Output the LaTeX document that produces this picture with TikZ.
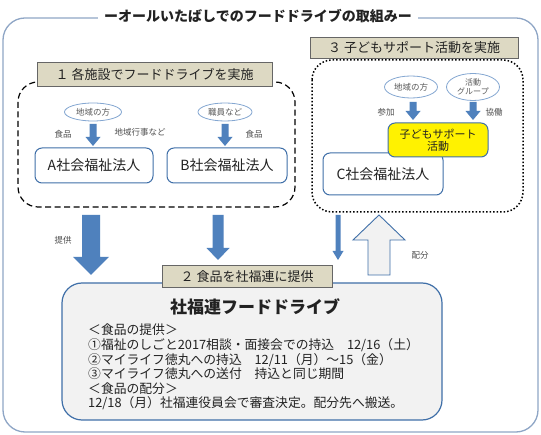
\documentclass[tikz,border=0pt]{standalone}
\usepackage{fontspec}
\setmainfont{Noto Sans CJK JP}
\usetikzlibrary{shapes.geometric}
\definecolor{outerc}{HTML}{8FA6C6}
\definecolor{boxc}{HTML}{3F6FA8}
\definecolor{arrc}{HTML}{4F81BD}
\definecolor{tanc}{HTML}{DDD9C3}
\definecolor{grayfill}{HTML}{F2F2F2}
\definecolor{txtc}{HTML}{222222}
\newcommand\blockdown[6]{% x, ytop, ybot, yhead, shafthalf, headhalf
  \fill[arrc] (#1-#5,#2) -- (#1+#5,#2) -- (#1+#5,#4) -- (#1+#6,#4) -- (#1,#3) -- (#1-#6,#4) -- (#1-#5,#4) -- cycle;}
\tikzset{
  lbl/.style={draw=gray!80!black, fill=tanc, font=\fontsize{13}{15}\selectfont, text=txtc, inner sep=0pt, anchor=north west},
  orgbox/.style={draw=boxc, line width=1pt, rounded corners=7pt, fill=white, font=\fontsize{14}{16}\selectfont, text=txtc},
  oval/.style={ellipse, draw=arrc!70, line width=0.8pt, fill=white, font=\fontsize{8.5}{10}\selectfont, text=black!65, inner sep=1pt, align=center},
  small/.style={font=\fontsize{8.5}{10}\selectfont, text=black!70},
}
\begin{document}
\begin{tikzpicture}[x=1pt,y=-1pt]
\useasboundingbox (0,0) rectangle (541,435);
\fill[white] (0,0) rectangle (541,435);
% outer frame
\draw[outerc, line width=1.3pt, rounded corners=22pt] (3,18) rectangle (538,432);
\node[fill=white, inner xsep=6pt, inner ysep=1pt, font=\fontsize{14}{16}\selectfont\bfseries, text=txtc] (title) at (258,16) {ーオールいたばしでのフードドライブの取組みー};

% group 1
\draw[dash pattern=on 6pt off 3.5pt, line width=1.2pt, rounded corners=20pt] (18,82) rectangle (295,207);
\node[lbl, minimum width=235pt, minimum height=24pt] (l1) at (37,62) {１ 各施設でフードドライブを実施};
\node[oval, minimum width=57pt, minimum height=18pt] (e1) at (93,112) {地域の方};
\node[oval, minimum width=54pt, minimum height=18pt] (e2) at (225,112) {職員など};
\node[orgbox, minimum width=118pt, minimum height=35pt] (A) at (94,165.5) {A社会福祉法人};
\node[orgbox, minimum width=120pt, minimum height=35pt] (B) at (227,165.5) {B社会福祉法人};
\blockdown{93}{124}{146}{137}{3.5}{7.5}
\blockdown{225}{124}{146}{137}{3.5}{7.5}
\node[small] (s1) at (63,134) {食品};
\node[small] (s2) at (140,132) {地域行事など};
\node[small] (s3) at (254,134) {食品};

% group 3
\draw[dotted, line width=1.5pt, rounded corners=20pt] (312,60) rectangle (523,212);
\node[lbl, minimum width=208pt, minimum height=21pt] (l3) at (310,37) {３ 子どもサポート活動を実施};
\node[oval, minimum width=53pt, minimum height=22pt] (e3) at (411,87) {地域の方};
\node[oval, minimum width=53pt, minimum height=27pt, inner sep=0pt, font=\fontsize{8}{8.5}\selectfont] (e4) at (473,87) {活動\\グループ};
\blockdown{413}{102}{120}{111}{3.5}{7.5}
\blockdown{473}{102}{120}{111}{3.5}{7.5}
\node[small] (s4) at (386,112) {参加};
\node[small] (s5) at (494,112) {協働};
\node[orgbox, minimum width=120pt, minimum height=42pt] (C) at (383,174) {C社会福祉法人};
\node[orgbox, fill=yellow, minimum width=100pt, minimum height=34pt, align=center, inner sep=1pt, font=\fontsize{11}{12}\selectfont] (Y) at (438,140) {子どもサポート\\活動};

% connecting arrows
\blockdown{91}{215}{275}{257}{9}{18}
\blockdown{218}{215}{260}{248}{5.5}{11.5}
\blockdown{338}{215}{260}{251}{2.5}{5.5}
\draw[boxc, line width=0.9pt, fill=grayfill] (368,275) -- (390,275) -- (390,240) -- (405,240) -- (379,215) -- (353,240) -- (368,240) -- cycle;
\node[small] (s6) at (63,240) {提供};
\node[small] (s7) at (420,255) {配分};

% main box
\draw[boxc, line width=1.2pt, fill=grayfill, rounded corners=20pt] (62,283) rectangle (442,420);
\node[lbl, minimum width=170pt, minimum height=22pt] (l2) at (162,265) {２ 食品を社福連に提供};
\node[font=\fontsize{17}{19}\selectfont\bfseries, text=txtc] (mt) at (255,307) {社福連フードドライブ};
\node[anchor=north west, align=left, inner sep=0pt, font=\fontsize{12.8}{14.6}\selectfont, text=txtc] (body) at (88,324) {＜食品の提供＞\\①福祉のしごと2017相談・面接会での持込　12/16（土）\\②マイライフ徳丸への持込　12/11（月）～15（金）\\③マイライフ徳丸への送付　持込と同じ期間\\＜食品の配分＞\\12/18（月）社福連役員会で審査決定。配分先へ搬送。};
\end{tikzpicture}
\end{document}
